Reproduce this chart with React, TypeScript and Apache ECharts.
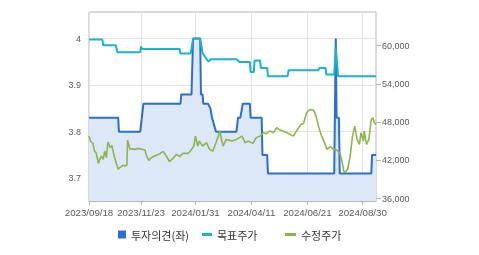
import React, { useEffect, useRef } from 'react';
import * as echarts from 'echarts';

const xTickDates = ['2023-09-18', '2023-11-23', '2024-01-31', '2024-04-11', '2024-06-21', '2024-08-30'];
const leftTicks = [3.7, 3.8, 3.9, 4];
const rightTicks = [36000, 42000, 48000, 54000, 60000];

const opinionPoints: [string, number][] = [
  ['2023-09-18', 3.83], ['2023-10-25', 3.83], ['2023-10-26', 3.8], ['2023-11-22', 3.8], ['2023-11-26', 3.86],
  ['2024-01-12', 3.86], ['2024-01-13', 3.88], ['2024-01-26', 3.88], ['2024-01-27', 3.94], ['2024-01-28', 4.0],
  ['2024-02-06', 4.0], ['2024-02-07', 3.88], ['2024-02-09', 3.88], ['2024-02-10', 3.86], ['2024-02-16', 3.86],
  ['2024-02-19', 3.85], ['2024-02-21', 3.83], ['2024-02-26', 3.8], ['2024-03-23', 3.8], ['2024-03-25', 3.83],
  ['2024-03-28', 3.83], ['2024-03-31', 3.86], ['2024-04-09', 3.86], ['2024-04-10', 3.83], ['2024-04-24', 3.83],
  ['2024-04-25', 3.75], ['2024-05-01', 3.75], ['2024-05-02', 3.71], ['2024-07-25', 3.71], ['2024-07-27', 4.0],
  ['2024-07-28', 3.83], ['2024-07-31', 3.83], ['2024-08-01', 3.71], ['2024-09-10', 3.71], ['2024-09-11', 3.75],
  ['2024-09-16', 3.75],
];

const targetPoints: [string, number][] = [
  ['2023-09-18', 60950], ['2023-10-05', 60950], ['2023-10-06', 60050], ['2023-10-22', 60050], ['2023-10-24', 58950],
  ['2023-11-22', 58950], ['2023-11-23', 59900], ['2023-11-24', 59480], ['2024-01-11', 59480], ['2024-01-12', 58750],
  ['2024-01-25', 58750], ['2024-01-28', 61100], ['2024-02-06', 61100], ['2024-02-09', 58850], ['2024-02-16', 57540],
  ['2024-02-20', 57850], ['2024-03-23', 57850], ['2024-03-27', 57450], ['2024-04-09', 57450], ['2024-04-10', 55850],
  ['2024-04-14', 55850], ['2024-04-15', 57650], ['2024-04-22', 57650], ['2024-04-23', 56510], ['2024-05-01', 56510],
  ['2024-05-02', 55200], ['2024-05-27', 55200], ['2024-05-28', 56130], ['2024-07-05', 56130], ['2024-07-06', 56500],
  ['2024-07-14', 56500], ['2024-07-15', 55460], ['2024-07-25', 55460], ['2024-07-27', 59700], ['2024-07-30', 55200],
  ['2024-09-16', 55200],
];

const pricePoints: [string, number][] = [
  ['2023-09-18', 45800], ['2023-09-20', 45000], ['2023-09-23', 44650], ['2023-09-25', 43450], ['2023-09-27', 43200],
  ['2023-09-30', 41550], ['2023-10-02', 42270], ['2023-10-04', 42680], ['2023-10-06', 42160], ['2023-10-08', 43460],
  ['2023-10-10', 42420], ['2023-10-12', 44870], ['2023-10-15', 43990], ['2023-10-17', 44350], ['2023-10-19', 43200],
  ['2023-10-21', 42160], ['2023-10-25', 40600], ['2023-10-27', 40860], ['2023-10-31', 41220], ['2023-11-03', 41110],
  ['2023-11-05', 41220], ['2023-11-06', 45180], ['2023-11-09', 43720], ['2023-11-11', 43830], ['2023-11-15', 43720],
  ['2023-11-19', 43880], ['2023-11-28', 43620], ['2023-11-30', 42680], ['2023-12-03', 42000], ['2023-12-06', 42420],
  ['2023-12-10', 42680], ['2023-12-17', 43050], ['2023-12-21', 43410], ['2023-12-25', 42680], ['2023-12-29', 41800],
  ['2024-01-03', 42360], ['2024-01-07', 42940], ['2024-01-11', 42580], ['2024-01-15', 43100], ['2024-01-22', 43100],
  ['2024-01-26', 43720], ['2024-01-29', 44240], ['2024-01-31', 45800], ['2024-02-03', 44240], ['2024-02-05', 45020],
  ['2024-02-09', 44240], ['2024-02-14', 44770], ['2024-02-18', 43720], ['2024-02-22', 43460], ['2024-02-26', 44770],
  ['2024-02-29', 45800], ['2024-03-02', 46590], ['2024-03-04', 45290], ['2024-03-06', 44240], ['2024-03-10', 45290],
  ['2024-03-17', 45020], ['2024-03-23', 45290], ['2024-03-30', 45800], ['2024-04-03', 44770], ['2024-04-07', 45020],
  ['2024-04-13', 44660], ['2024-04-17', 45550], ['2024-04-22', 45800], ['2024-04-26', 46340], ['2024-04-30', 46180],
  ['2024-05-04', 46590], ['2024-05-09', 46340], ['2024-05-13', 47120], ['2024-05-17', 46750], ['2024-05-21', 46590],
  ['2024-05-26', 46340], ['2024-05-30', 46070], ['2024-06-03', 45800], ['2024-06-07', 46590], ['2024-06-10', 47120],
  ['2024-06-13', 47640], ['2024-06-16', 47790], ['2024-06-20', 49470], ['2024-06-24', 49980], ['2024-06-29', 49870],
  ['2024-07-02', 48940], ['2024-07-05', 47370], ['2024-07-09', 45800], ['2024-07-11', 45290], ['2024-07-16', 43720],
  ['2024-07-20', 44140], ['2024-07-24', 43720], ['2024-07-28', 43620], ['2024-08-01', 43200], ['2024-08-04', 41800],
  ['2024-08-06', 40330], ['2024-08-08', 40080], ['2024-08-11', 40600], ['2024-08-14', 42420], ['2024-08-17', 45600],
  ['2024-08-20', 47370], ['2024-08-23', 45290], ['2024-08-26', 44500], ['2024-08-28', 46340], ['2024-08-31', 45020],
  ['2024-09-01', 46590], ['2024-09-04', 44500], ['2024-09-07', 45290], ['2024-09-10', 48420], ['2024-09-12', 48685],
  ['2024-09-14', 47900], ['2024-09-16', 47640],
];

const ts = (s: string) => {
  const [y, m, d] = s.split('-').map(Number);
  return new Date(y, m - 1, d).getTime();
};
const pad = (n: number) => (n < 10 ? '0' + n : '' + n);
const fmtDate = (v: number) => {
  const d = new Date(v);
  return `${d.getFullYear()}/${pad(d.getMonth() + 1)}/${pad(d.getDate())}`;
};

const GRID_LINE = '#e3e3e3';
const BORDER = '#b4b4b4';
const LABEL = '#5a5a5a';

export default function App() {
  const ref = useRef<HTMLDivElement>(null);
  useEffect(() => {
    if (!ref.current) return;
    const chart = echarts.init(ref.current, undefined, { renderer: 'svg' });
    const xTicks = xTickDates.map(ts);
    const legendText = { fontSize: 11, color: '#333', fontFamily: 'Noto Sans CJK KR' };
    const legendBase = { top: 229, padding: 0, icon: 'rect', itemGap: 5, textStyle: legendText, selectedMode: false };
    chart.setOption({
      animation: false,
      grid: { left: 89, right: 103, top: 12, bottom: 54, show: true, borderColor: BORDER, borderWidth: 1 },
      legend: [
        { ...legendBase, data: ['투자의견(좌)'], left: 118, itemWidth: 8, itemHeight: 8 },
        { ...legendBase, data: ['목표주가'], left: 202, itemWidth: 10, itemHeight: 3 },
        { ...legendBase, data: ['수정주가'], left: 285, itemWidth: 11, itemHeight: 3 },
      ],
      xAxis: {
        type: 'value',
        min: ts('2023-09-18'),
        max: ts('2024-09-16'),
        axisLine: { show: true, lineStyle: { color: BORDER } },
        axisTick: { show: true, length: 4, lineStyle: { color: BORDER }, customValues: xTicks },
        axisLabel: { customValues: xTicks, formatter: (v: number) => fmtDate(v), fontSize: 9.7, color: LABEL, margin: 6, fontFamily: 'Liberation Sans', hideOverlap: false },
        splitLine: { show: true, lineStyle: { color: GRID_LINE } },
      },
      yAxis: [
        {
          type: 'value', position: 'left', min: 3.651, max: 4.057,
          axisLine: { show: false },
          axisTick: { show: false, customValues: leftTicks },
          axisLabel: { customValues: leftTicks, fontSize: 9, color: LABEL, margin: 8, fontFamily: 'Liberation Sans' },
          splitLine: { show: true, lineStyle: { color: GRID_LINE } },
        },
        {
          type: 'value', position: 'right', min: 35620, max: 65280,
          axisLine: { show: false },
          axisTick: { show: true, length: 5, lineStyle: { color: BORDER }, customValues: rightTicks },
          axisLabel: { customValues: rightTicks, fontSize: 9, color: LABEL, margin: 6, fontFamily: 'Liberation Sans', formatter: (v: number) => v.toLocaleString('en-US') },
          splitLine: { show: false },
        },
      ],
      series: [
        {
          name: '투자의견(좌)', type: 'line', yAxisIndex: 0, showSymbol: false, symbol: 'none',
          data: opinionPoints.map(([d, v]) => [ts(d), v]),
          lineStyle: { color: '#2b6fd3', width: 2 }, itemStyle: { color: '#2b6fd3' },
          areaStyle: { color: '#dce7f7', opacity: 1, origin: 'start' },
        },
        {
          name: '목표주가', type: 'line', yAxisIndex: 1, showSymbol: false, symbol: 'none',
          data: targetPoints.map(([d, v]) => [ts(d), v]),
          lineStyle: { color: '#1cb3c8', width: 2 }, itemStyle: { color: '#1cb3c8' },
        },
        {
          name: '수정주가', type: 'line', yAxisIndex: 1, showSymbol: false, symbol: 'none',
          data: pricePoints.map(([d, v]) => [ts(d), v]),
          lineStyle: { color: '#8cb54b', width: 1.6 }, itemStyle: { color: '#8cb54b' },
        },
      ],
    });
    return () => chart.dispose();
  }, []);
  return <div ref={ref} style={{ position: 'fixed', left: 0, top: 0, width: 479, height: 255 }} />;
}
